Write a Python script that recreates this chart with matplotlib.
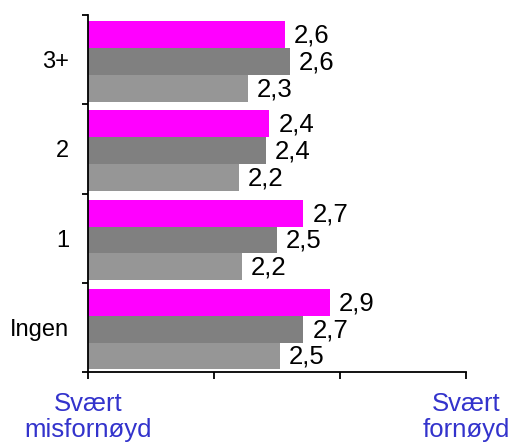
import matplotlib
matplotlib.use("Agg")
import matplotlib.pyplot as plt
import numpy as np

plt.rcParams['font.family'] = ['Liberation Sans', 'DejaVu Sans']

# groups, bottom to top
categories = ["Ingen", "1", "2", "3+"]
# three series per group, drawn top to bottom inside each group
magenta_vals = [2.92, 2.71, 2.44, 2.56]
dark_vals = [2.71, 2.50, 2.41, 2.60]
light_vals = [2.52, 2.22, 2.20, 2.27]
x_tick_vals = [1, 2, 3, 4]
x_end_labels = ["Svært\nmisfornøyd", "Svært\nfornøyd"]

series = [
    (magenta_vals, "#ff00ff", 0.3),
    (dark_vals, "#808080", 0.0),
    (light_vals, "#969696", -0.3),
]

fig = plt.figure(figsize=(5.12, 4.43), dpi=100)
ax = fig.add_axes([88/512, 1-372/443, (466-88)/512, (372-15)/443])

y = np.arange(len(categories))
for vals, col, off in series:
    ax.barh(y + off - 0.02, vals, height=0.3, left=0, color=col, linewidth=0)
    for yi, v in zip(y, vals):
        ax.text(v + 0.07, yi + off - 0.03, f"{v:.1f}".replace(".", ","),
                va="center", ha="left", fontsize=18.5)

ax.set_xlim(1, 4)
ax.set_ylim(-0.5, len(categories) - 0.5)

# group boundary ticks on y, labels at centers
ax.set_yticks(np.arange(len(categories) + 1) - 0.5)
ax.set_yticklabels([])
ax.set_yticks(y, minor=True)
ax.set_yticklabels(categories, minor=True, fontsize=17)
ax.tick_params(axis="y", which="minor", length=0, pad=13.5)
ax.tick_params(axis="y", which="major", length=4, width=1.3, direction="out")

ax.set_xticks(x_tick_vals)
ax.set_xticklabels([])
ax.tick_params(axis="x", length=5, width=1.3, direction="out")

for side in ["top", "right"]:
    ax.spines[side].set_visible(False)
for side in ["left", "bottom"]:
    ax.spines[side].set_linewidth(1.3)

for xv, lab in zip([x_tick_vals[0], x_tick_vals[-1]], x_end_labels):
    ax.text(xv, -0.725, lab, ha="center", va="top",
            color="#3333cc", fontsize=18.5, linespacing=1.08,
            transform=ax.transData, clip_on=False)

fig.savefig("out.png", dpi=100)
